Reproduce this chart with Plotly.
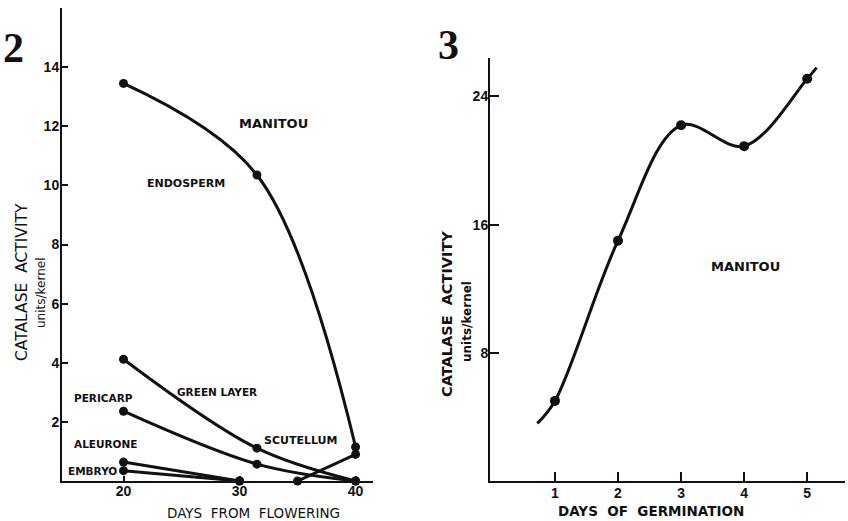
import plotly.graph_objects as go

W, H = 848, 521

# ---------- Panel 2 data (days from flowering) ----------
endosperm_x = [20, 31.5, 40]
endosperm_y = [13.45, 10.35, 1.15]
green_x = [20, 31.5, 40]
green_y = [4.12, 1.11, 0.0]
pericarp_x = [20, 31.5, 40]
pericarp_y = [2.36, 0.57, 0.0]
scutellum_x = [35, 40]
scutellum_y = [0.0, 0.9]
aleurone_x = [20, 30]
aleurone_y = [0.64, 0.0]
embryo_x = [20, 30]
embryo_y = [0.35, 0.0]
left_xticks = [20, 30, 40]
left_yticks = [2, 4, 6, 8, 10, 12, 14]

# ---------- Panel 3 data (days of germination) ----------
germ_days = [1, 2, 3, 4, 5]
germ_act = [5.0, 15.0, 22.2, 20.9, 25.1]
germ_curve_x = [0.72, 1, 2, 3, 4, 5, 5.15]
germ_curve_y = [3.6, 5.0, 15.0, 22.2, 20.9, 25.1, 25.8]
right_xticks = [1, 2, 3, 4, 5]
right_yticks = [8, 16, 24]

BLACK = "#111111"
TICKFONT = dict(family="Liberation Sans Narrow, Liberation Sans, Arial", size=14,
                color=BLACK, weight="bold")
LBL = "DejaVu Sans, Liberation Sans, Arial, sans-serif"


def px(x):
    return x / W


def py(y):
    return 1 - y / H


fig = go.Figure()


def add_series(xs, ys, xa, ya, markers=True):
    fig.add_trace(go.Scatter(
        x=xs, y=ys, xaxis=xa, yaxis=ya,
        mode="lines+markers" if markers else "lines",
        line=dict(color=BLACK, width=3, shape="spline", smoothing=1.0),
        marker=dict(color=BLACK, size=9),
        cliponaxis=False, showlegend=False, hoverinfo="skip"))


for xs, ys in [(endosperm_x, endosperm_y), (green_x, green_y), (pericarp_x, pericarp_y),
               (scutellum_x, scutellum_y), (aleurone_x, aleurone_y), (embryo_x, embryo_y)]:
    add_series(xs, ys, "x", "y")

# right panel curve + points
add_series(germ_curve_x, germ_curve_y, "x2", "y2", markers=False)
fig.add_trace(go.Scatter(x=germ_days, y=germ_act, xaxis="x2", yaxis="y2", mode="markers",
                         marker=dict(color=BLACK, size=10), cliponaxis=False,
                         showlegend=False, hoverinfo="skip"))

axis_common = dict(showgrid=False, zeroline=False, showline=True, linecolor=BLACK,
                   linewidth=2, tickcolor=BLACK, tickwidth=2, tickfont=TICKFONT,
                   fixedrange=True, automargin=False)

fig.update_layout(
    width=W, height=H,
    margin=dict(l=0, r=0, t=0, b=0, pad=0),
    paper_bgcolor="white", plot_bgcolor="white",
    xaxis=dict(domain=[px(62), px(373)], range=[14.7, 41.5], anchor="y",
               tickvals=left_xticks, ticks="inside", ticklen=5,
               ticklabelstandoff=-4, **axis_common),
    yaxis=dict(domain=[py(481), py(8)], range=[0, 16], anchor="x",
               tickvals=left_yticks, ticks="inside", ticklen=6,
               ticklabelstandoff=-2, **axis_common),
    xaxis2=dict(domain=[px(490), px(845)], range=[-0.03, 5.6], anchor="y2",
                tickvals=right_xticks, ticks="inside", ticklen=9,
                ticklabelstandoff=-2, **axis_common),
    yaxis2=dict(domain=[py(481), py(58)], range=[0, 26.4], anchor="x2",
                tickvals=right_yticks, ticks="inside", ticklen=9,
                ticklabelstandoff=-3, **axis_common),
)

anns = []


def ann(text, x, y, size=11, family=LBL, angle=0, bold=True):
    t = f"<b>{text}</b>" if bold else text
    anns.append(dict(text=t, x=px(x), y=py(y), xref="paper", yref="paper",
                     showarrow=False, xanchor="center", yanchor="middle",
                     textangle=angle, font=dict(family=family, size=size, color=BLACK)))


# panel numbers
ann("2", 13, 48, size=42, family="Liberation Serif, Times New Roman, serif")
ann("3", 448, 45, size=42, family="Liberation Serif, Times New Roman, serif")

# left panel labels
ann("MANITOU", 273, 124, size=13)
ann("ENDOSPERM", 186, 183, size=11)
ann("GREEN LAYER", 217, 392, size=10.5)
ann("PERICARP", 103, 398, size=10.5)
ann("SCUTELLUM", 300, 440, size=11)
ann("ALEURONE", 106, 444, size=10.5)
ann("EMBRYO", 92, 471, size=10.5)

# axis titles left
ann("CATALASE  ACTIVITY", 22, 282, size=15.5, angle=-90, bold=False)
ann("units/kernel", 41, 293, size=12, angle=-90, bold=False)
ann("DAYS  FROM  FLOWERING", 253, 513, size=13.5, bold=False)

# right panel
ann("MANITOU", 745, 266, size=13)
ann("CATALASE  ACTIVITY", 447, 314, size=14.5, angle=-90, bold=True)
ann("units/kernel", 467, 322, size=12, angle=-90, bold=True)
ann("DAYS  OF  GERMINATION", 651, 511, size=13.5, bold=True)

fig.update_layout(annotations=anns)

fig.write_html("out.html", config={"displayModeBar": False, "staticPlot": True},
               post_script="document.body.style.margin='0';document.body.style.overflow='hidden';")
